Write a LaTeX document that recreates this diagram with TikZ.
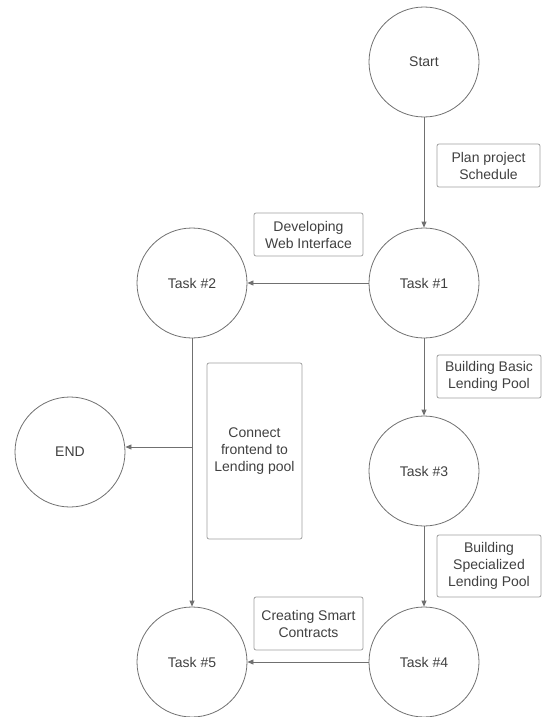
\documentclass[tikz,border=0pt]{standalone}
\usepackage{fontspec}
\setmainfont{Liberation Sans}
\usetikzlibrary{arrows.meta}
\definecolor{linegray}{HTML}{707070}
\definecolor{boxgray}{HTML}{A0A0A0}
\definecolor{txtgray}{HTML}{404040}
\begin{document}
\begin{tikzpicture}[x=1pt,y=-1pt,
  every node/.style={font=\fontsize{14}{17}\selectfont, text=txtgray},
  state/.style={circle, draw=linegray, line width=0.8pt, minimum size=110pt, inner sep=0pt},
  note/.style={draw=boxgray, line width=0.8pt, rounded corners=2pt, align=center, inner sep=0pt},
  flow/.style={draw=linegray, line width=0.8pt, -{Triangle[length=6pt,width=5pt]}}
]
\useasboundingbox (0,0) rectangle (542,717);

% task states
\node[state] (start) at (424,62)  {Start};
\node[state] (t1)    at (424,283) {Task \#1};
\node[state] (t2)    at (192,283) {Task \#2};
\node[state] (t3)    at (424,471) {Task \#3};
\node[state] (endn)  at (70,452)  {END};
\node[state] (t4)    at (424,662) {Task \#4};
\node[state] (t5)    at (192,662) {Task \#5};

% branch point on the line from Task #2 down to Task #5
\coordinate (br) at (192,447);

% transitions
\draw[flow] (start) -- (t1);
\draw[flow] (t1) -- (t2);
\draw[flow] (t1) -- (t3);
\draw[flow] (t3) -- (t4);
\draw[flow] (t4) -- (t5);
\draw[flow] (t2) -- (t5);
\draw[flow] (br) -- (br -| endn.east);

% activity labels
\node[note, minimum width=103pt, minimum height=43pt] (plan)  at (488.5,165.5) {Plan project\\Schedule};
\node[note, minimum width=109pt, minimum height=43pt] (web)   at (308.5,234.5) {Developing\\Web Interface};
\node[note, minimum width=104pt, minimum height=43pt] (basic) at (489,376.5)   {Building Basic\\Lending Pool};
\node[note, minimum width=104pt, minimum height=62pt] (spec)  at (489,566)     {Building\\Specialized\\Lending Pool};
\node[note, minimum width=109pt, minimum height=53pt] (smart) at (308.5,623.5) {Creating Smart\\Contracts};
\node[note, minimum width=95pt, minimum height=176pt] (conn)  at (254.5,451)   {Connect\\frontend to\\Lending pool};
\end{tikzpicture}
\end{document}
